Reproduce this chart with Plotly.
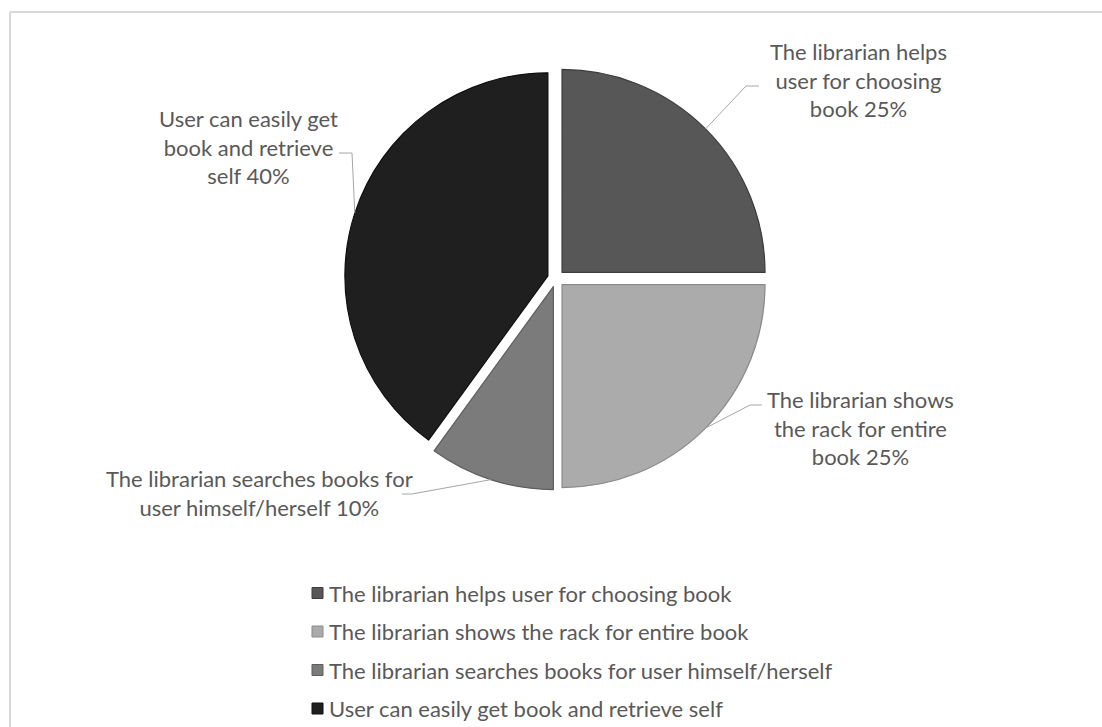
import math
import plotly.graph_objects as go

# Survey answers and their shares (%)
categories = [
    "The librarian helps user for choosing book",
    "The librarian shows the rack for entire book",
    "The librarian searches books for user himself/herself",
    "User can easily get book and retrieve self",
]
values = [25, 25, 10, 40]
label_texts = [
    "The librarian helps<br>user for choosing<br>book 25%",
    "The librarian shows<br>the rack for entire<br>book 25%",
    "The librarian searches books for<br>user himself/herself 10%",
    "User can easily get<br>book and retrieve<br>self 40%",
]
colors = ["#575757", "#ababab", "#7b7b7b", "#1f1f1f"]
edge_colors = ["#3c3c3c", "#8a8a8a", "#5e5e5e", "#0e0e0e"]

W, H = 1102, 727
FONT = "Lato"
TEXT_COLOR = "#595959"
LINE_COLOR = "#a6a6a6"

# Pie placement in page pixels
cx, cy = 556.0, 278.5
radius = 203.0
pull = 0.042
half = radius * (1 + pull)

# Data-label placement: text centre, leader elbow, leader end (page pixels)
label_layout = [
    dict(tx=858, ty=80, ex=746, ey=86, lx=759),
    dict(tx=860, ty=428, ex=750, ey=405, lx=762),
    dict(tx=259, ty=493, ex=412, ey=494, lx=402),
    dict(tx=248, ty=147, ex=352, ey=153, lx=339),
]


def px(x):
    return x / W


def py(y):
    return 1 - y / H


fig = go.Figure()
fig.add_trace(go.Pie(
    labels=categories,
    values=values,
    sort=False,
    direction="clockwise",
    rotation=0,
    pull=[pull] * len(values),
    marker=dict(colors=colors, line=dict(color=edge_colors, width=1.2)),
    textinfo="none",
    hoverinfo="label+percent",
    showlegend=False,
    domain=dict(x=[px(cx - half), px(cx + half)], y=[py(cy + half), py(cy - half)]),
))

shapes = []
annotations = []

# Leader lines from each slice's outer edge to its label
total = sum(values)
cum = 0
for v, txt, lay in zip(values, label_texts, label_layout):
    theta = 2 * math.pi * (cum + v / 2) / total
    cum += v
    ox = cx + radius * (1 + pull) * math.sin(theta)
    oy = cy - radius * (1 + pull) * math.cos(theta)
    shapes.append(dict(type="path", xref="paper", yref="paper",
                       path=f"M {px(ox)},{py(oy)} L {px(lay['ex'])},{py(lay['ey'])} L {px(lay['lx'])},{py(lay['ey'])}",
                       line=dict(color=LINE_COLOR, width=1)))
    annotations.append(dict(x=px(lay["tx"]), y=py(lay["ty"]), xref="paper", yref="paper",
                            text=txt, showarrow=False, align="center",
                            xanchor="center", yanchor="middle",
                            font=dict(family=FONT, size=22, color=TEXT_COLOR)))

# Legend rows
legend_x, legend_y0, legend_step, box = 312, 593, 38.5, 11
for i, (name, col) in enumerate(zip(categories, colors)):
    yy = legend_y0 + i * legend_step
    shapes.append(dict(type="rect", xref="paper", yref="paper",
                       x0=px(legend_x), x1=px(legend_x + box),
                       y0=py(yy + box / 2), y1=py(yy - box / 2),
                       fillcolor=col, line=dict(color=edge_colors[i], width=1)))
    annotations.append(dict(x=px(legend_x + box + 4), y=py(yy), xref="paper", yref="paper",
                            text=name, showarrow=False, xanchor="left", yanchor="middle",
                            font=dict(family=FONT, size=22, color=TEXT_COLOR)))

# Chart-area frame (top and left edges)
shapes.append(dict(type="line", xref="paper", yref="paper", x0=px(10), x1=1.0, y0=py(12), y1=py(12),
                   line=dict(color="#d9d9d9", width=2)))
shapes.append(dict(type="line", xref="paper", yref="paper", x0=px(10), x1=px(10), y0=py(12), y1=0,
                   line=dict(color="#d9d9d9", width=2)))

fig.update_layout(
    width=W, height=H,
    margin=dict(l=0, r=0, t=0, b=0),
    paper_bgcolor="white",
    plot_bgcolor="white",
    shapes=shapes,
    annotations=annotations,
)

fig.write_html("out.html")
